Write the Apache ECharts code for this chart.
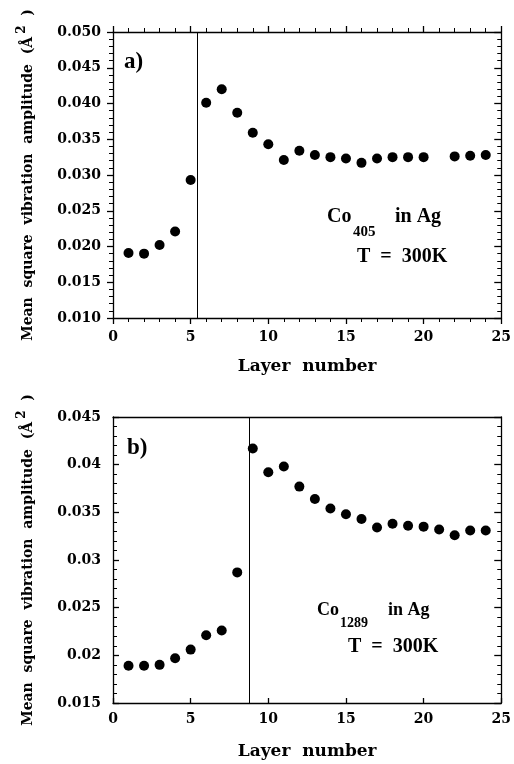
<!DOCTYPE html>
<html>
<head>
<meta charset="utf-8">
<script src="https://cdn.jsdelivr.net/npm/echarts@6/dist/echarts.min.js"></script>
<style>html,body{margin:0;padding:0;background:#fff;}#c{width:514px;height:764px;}</style>
</head>
<body>
<div id="c"></div>
<script>
var layersA = [1,2,3,4,5,6,7,8,9,10,11,12,13,14,15,16,17,18,19,20,22,23,24];
var msaA = [0.0191,0.0190,0.0202,0.0221,0.0293,0.0401,0.0420,0.0387,0.0359,0.0343,0.0321,0.0334,0.0328,0.0325,0.0323,0.0317,0.0323,0.0325,0.0325,0.0325,0.0326,0.0327,0.0328];
var layersB = [1,2,3,4,5,6,7,8,9,10,11,12,13,14,15,16,17,18,19,20,21,22,23,24];
var msaB = [0.0189,0.0189,0.0190,0.0197,0.0206,0.0221,0.0226,0.0287,0.0417,0.0392,0.0398,0.0377,0.0364,0.0354,0.0348,0.0343,0.0334,0.0338,0.0336,0.0335,0.0332,0.0326,0.0331,0.0331];
var interfaceA = 5.4;
var interfaceB = 8.75;
var xTickLabels = ['0','5','10','15','20','25'];
var yTickLabelsA = ['0.010','0.015','0.020','0.025','0.030','0.035','0.040','0.045','0.050'];
var yTickLabelsB = ['0.015','0.02','0.025','0.03','0.035','0.04','0.045'];

function pairs(xs, ys){ return xs.map(function(x,i){ return [x, ys[i]]; }); }
function lookup(arr, min, step){ return function(v){ var i = Math.round((v - min)/step); return arr[i] !== undefined ? arr[i] : ''; }; }

var SERIF = 'DejaVu Serif';
var lab = {color:'#000', fontFamily:SERIF, fontWeight:'bold', fontSize:14};
var blk = {color:'#000', width:1.3};

function xAx(grid, pos, opts){
  var o = {gridIndex:grid, type:'value', min:0, max:25, interval:5, position:pos,
    axisLine:{show:true, onZero:false, lineStyle:blk},
    axisTick:{show:true, inside:false, length:6, lineStyle:blk},
    minorTick:{show:false, splitNumber:5, length:4, lineStyle:{color:'#000', width:1}},
    splitLine:{show:false}, minorSplitLine:{show:false},
    axisLabel:{show:false}};
  for (var k in opts) o[k] = opts[k];
  return o;
}
function yAx(grid, pos, min, max, opts){
  var o = {gridIndex:grid, type:'value', min:min, max:max, interval:0.005, position:pos,
    axisLine:{show:true, onZero:false, lineStyle:blk},
    axisTick:{show:true, inside:false, length:6, lineStyle:blk},
    minorTick:{show:true, splitNumber:5, length:4, lineStyle:{color:'#000', width:1}},
    splitLine:{show:false}, minorSplitLine:{show:false},
    axisLabel:{show:false}};
  for (var k in opts) o[k] = opts[k];
  return o;
}
var yName = 'Mean  square  vibration  amplitude  (Å{sup|2}  )';
var yNameStyle = {color:'#000', fontFamily:SERIF, fontWeight:'bold', fontSize:14,
  rich:{sup:{fontFamily:SERIF, fontWeight:'bold', fontSize:12, color:'#000', padding:[0,0,12,3]}}};
var xNameStyle = {color:'#000', fontFamily:SERIF, fontWeight:'bold', fontSize:17};

var chart = echarts.init(document.getElementById('c'), null, {renderer:'canvas'});
var option = {
  animation:false,
  backgroundColor:'#fff',
  grid:[
    {left:113, top:32, width:389, height:286},
    {left:113, top:417, width:389, height:286}
  ],
  xAxis:[
    xAx(0,'bottom',{axisTick:{show:true, inside:false, length:6, lineStyle:blk},
      minorTick:{show:true, splitNumber:5, length:4, lineStyle:{color:'#000', width:1}},
      axisLabel:Object.assign({show:true, margin:12, formatter:lookup(xTickLabels,0,5)}, lab),
      name:'Layer  number', nameLocation:'middle', nameGap:40, nameTextStyle:xNameStyle}),
    xAx(0,'top',{minorTick:{show:true, splitNumber:5, length:4, lineStyle:{color:'#000', width:1}}}),
    xAx(1,'bottom',{axisTick:{show:true, inside:true, length:5, lineStyle:blk},
      axisLabel:Object.assign({show:true, margin:9, formatter:lookup(xTickLabels,0,5)}, lab),
      name:'Layer  number', nameLocation:'middle', nameGap:40, nameTextStyle:xNameStyle}),
    xAx(1,'top',{axisTick:{show:false}})
  ],
  yAxis:[
    yAx(0,'left',0.010,0.050,{axisLabel:Object.assign({show:true, margin:12, formatter:lookup(yTickLabelsA,0.010,0.005)}, lab),
      name:yName, nameLocation:'middle', nameGap:73, nameTextStyle:yNameStyle}),
    yAx(0,'right',0.010,0.050,{axisTick:{show:true, inside:true, length:7, lineStyle:blk}}),
    yAx(1,'left',0.015,0.045,{axisTick:{show:true, inside:true, length:6, lineStyle:blk},
      axisLabel:Object.assign({show:true, margin:12, formatter:lookup(yTickLabelsB,0.015,0.005)}, lab),
      name:yName, nameLocation:'middle', nameGap:73, nameTextStyle:yNameStyle}),
    yAx(1,'right',0.015,0.045,{axisTick:{show:true, inside:true, length:7, lineStyle:blk}})
  ],
  series:[
    {type:'scatter', xAxisIndex:0, yAxisIndex:0, data:pairs(layersA, msaA), symbolSize:10,
      itemStyle:{color:'#000', opacity:1},
      markLine:{silent:true, symbol:['none','none'], label:{show:false},
        lineStyle:{color:'#000', width:1, type:'solid'}, data:[{xAxis:interfaceA}]}},
    {type:'scatter', xAxisIndex:2, yAxisIndex:2, data:pairs(layersB, msaB), symbolSize:10,
      itemStyle:{color:'#000', opacity:1},
      markLine:{silent:true, symbol:['none','none'], label:{show:false},
        lineStyle:{color:'#000', width:1, type:'solid'}, data:[{xAxis:interfaceB}]}}
  ],
  graphic:[
    {type:'text', x:124, y:62, style:{text:'a)', fill:'#000', font:'bold 23px "Liberation Serif"', textVerticalAlign:'middle'}},
    {type:'text', x:127, y:448, style:{text:'b)', fill:'#000', font:'bold 23px "Liberation Serif"', textVerticalAlign:'middle'}},
    {type:'text', x:327, y:217, style:{text:'Co', fill:'#000', font:'bold 20px "Liberation Serif"', textVerticalAlign:'middle'}},
    {type:'text', x:353, y:232, style:{text:'405', fill:'#000', font:'bold 15px "Liberation Serif"', textVerticalAlign:'middle'}},
    {type:'text', x:395, y:217, style:{text:'in Ag', fill:'#000', font:'bold 20px "Liberation Serif"', textVerticalAlign:'middle'}},
    {type:'text', x:357, y:257, style:{text:'T  =  300K', fill:'#000', font:'bold 20px "Liberation Serif"', textVerticalAlign:'middle'}},
    {type:'text', x:317, y:610, style:{text:'Co', fill:'#000', font:'bold 18px "Liberation Serif"', textVerticalAlign:'middle'}},
    {type:'text', x:340, y:623, style:{text:'1289', fill:'#000', font:'bold 14px "Liberation Serif"', textVerticalAlign:'middle'}},
    {type:'text', x:388, y:610, style:{text:'in Ag', fill:'#000', font:'bold 18px "Liberation Serif"', textVerticalAlign:'middle'}},
    {type:'text', x:348, y:647, style:{text:'T  =  300K', fill:'#000', font:'bold 20px "Liberation Serif"', textVerticalAlign:'middle'}}
  ]
};
chart.setOption(option);
</script>
</body>
</html>
